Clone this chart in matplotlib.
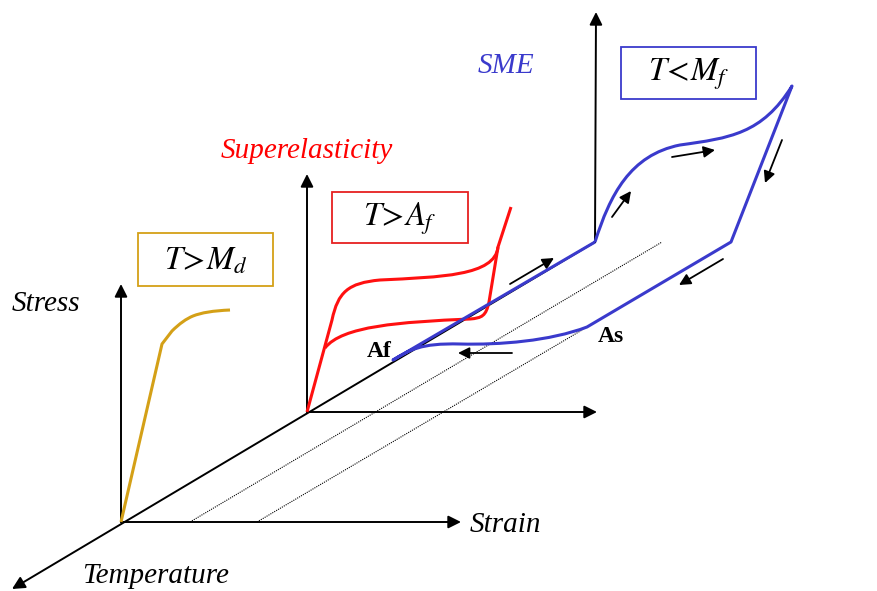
import matplotlib

matplotlib.use("Agg")
import matplotlib.pyplot as plt
from matplotlib.path import Path
from matplotlib.patches import PathPatch, Rectangle

plt.rcParams["mathtext.fontset"] = "stix"

SERIF = "Liberation Serif"
GOLD = "#d4a017"
RED = "#ff1010"
BLUE = "#3a3acc"

# origins of the three stress-strain planes (pixel coords)
origins = [(121, 522), (307, 412), (595, 242)]
stress_tips = [(121, 284), (307, 174), (596, 12)]
strain_tips = [(461, 522), (597, 412), (886, 242)]
temp_tip = (12, 589)

# dotted iso-strain lines along the temperature axis
dotted_lines = [((190, 522), (662, 242)), ((257, 522), (731, 242))]

# T > Md : elastic + plastic
yellow_pts = [(121, 522), (162, 344), (172, 331), (183, 320), (193, 316),
              (205, 311), (230, 310)]
yellow_codes = [Path.MOVETO, Path.LINETO, Path.LINETO, Path.CURVE3, Path.CURVE3,
                Path.CURVE3, Path.CURVE3]

# T > Af : superelastic loop
red_load_pts = [(307, 412), (332, 320), (338, 292), (348, 283), (380, 280),
                (440, 277), (495, 276), (498, 247), (511, 207)]
red_load_codes = [Path.MOVETO, Path.LINETO, Path.CURVE4, Path.CURVE4, Path.CURVE4,
                  Path.CURVE4, Path.CURVE4, Path.CURVE4, Path.LINETO]
red_unload_pts = [(498, 247), (489, 302), (486, 316), (482, 318), (470, 319),
                  (400, 322), (342, 326), (325, 348)]
red_unload_codes = [Path.MOVETO, Path.LINETO, Path.CURVE4, Path.CURVE4, Path.CURVE4,
                    Path.CURVE4, Path.CURVE4, Path.CURVE4]

# T < Mf : shape memory cycle
blue_pts = [(595, 242), (610, 195), (630, 155), (680, 145),
            (730, 138), (762, 134), (792, 86),
            (731, 242), (587, 327),
            (550, 341), (500, 345), (460, 344),
            (420, 343), (410, 350), (393, 360),
            (595, 242)]
blue_codes = [Path.MOVETO, Path.CURVE4, Path.CURVE4, Path.CURVE4,
              Path.CURVE4, Path.CURVE4, Path.CURVE4,
              Path.LINETO, Path.LINETO,
              Path.CURVE4, Path.CURVE4, Path.CURVE4,
              Path.CURVE4, Path.CURVE4, Path.CURVE4,
              Path.LINETO]

# small direction arrows (start, end)
small_arrows = [((510, 284), (554, 258)), ((723, 259), (679, 285)),
                ((512, 353), (458, 353)), ((612, 217), (631, 191)),
                ((672, 157), (715, 150)), ((782, 140), (765, 183))]

# condition boxes
box_rects = [(138, 233, 273, 286), (332, 192, 468, 243), (621, 47, 756, 99)]
box_labels = [r"$T\!>\!M_d$", r"$T\!>\!A_f$", r"$T\!<\!M_f$"]
box_colors = [GOLD, "#e62020", BLUE]

fig = plt.figure(figsize=(8.77, 5.91), dpi=100)
ax = fig.add_axes([0, 0, 1, 1])
ax.set_xlim(0, 877)
ax.set_ylim(591, 0)
ax.axis("off")


def arrow(start, end, lw=1.4, scale=19):
    ax.annotate("", xy=end, xytext=start,
                arrowprops=dict(arrowstyle="-|>", mutation_scale=scale, color="black",
                                lw=lw, shrinkA=0, shrinkB=0), zorder=3)


for o, s, e in zip(origins, stress_tips, strain_tips):
    arrow(o, s)
    arrow(o, e)
arrow(origins[2], temp_tip)

for a, b in dotted_lines:
    ax.plot([a[0], b[0]], [a[1], b[1]], color="black", lw=0.8, ls=(0, (1, 1)), zorder=2)

for pts, codes, col in [(yellow_pts, yellow_codes, GOLD),
                        (red_load_pts, red_load_codes, RED),
                        (red_unload_pts, red_unload_codes, RED),
                        (blue_pts, blue_codes, BLUE)]:
    ax.add_patch(PathPatch(Path(pts, codes), facecolor="none", edgecolor=col,
                           lw=2.2, capstyle="butt", joinstyle="round", zorder=4))

for s, e in small_arrows:
    arrow(s, e, lw=1.3, scale=17)

for (x0, y0, x1, y1), lab, col in zip(box_rects, box_labels, box_colors):
    ax.add_patch(Rectangle((x0, y0), x1 - x0, y1 - y0, facecolor="none",
                           edgecolor=col, lw=1.3, zorder=5))
    ax.text((x0 + x1) / 2, (y0 + y1) / 2 + 1, lab, fontsize=23.5, color="black",
            ha="center", va="center", zorder=6)

ax.text(12, 311, "Stress", family=SERIF, style="italic", fontsize=21, va="baseline")
ax.text(470, 532, "Strain", family=SERIF, style="italic", fontsize=21, va="baseline")
ax.text(82, 583, "Temperature", family=SERIF, style="italic", fontsize=21, va="baseline")
ax.text(221, 158, "Superelasticity", family=SERIF, style="italic", fontsize=21,
        color="red", va="baseline")
ax.text(478, 73, "SME", family=SERIF, style="italic", fontsize=21, color=BLUE,
        va="baseline")
ax.text(367, 357, "Af", family=SERIF, weight="bold", fontsize=17, va="baseline", zorder=6)
ax.text(598, 342, "As", family=SERIF, weight="bold", fontsize=17, va="baseline", zorder=6)

fig.savefig("out.png", dpi=100, facecolor="white")
